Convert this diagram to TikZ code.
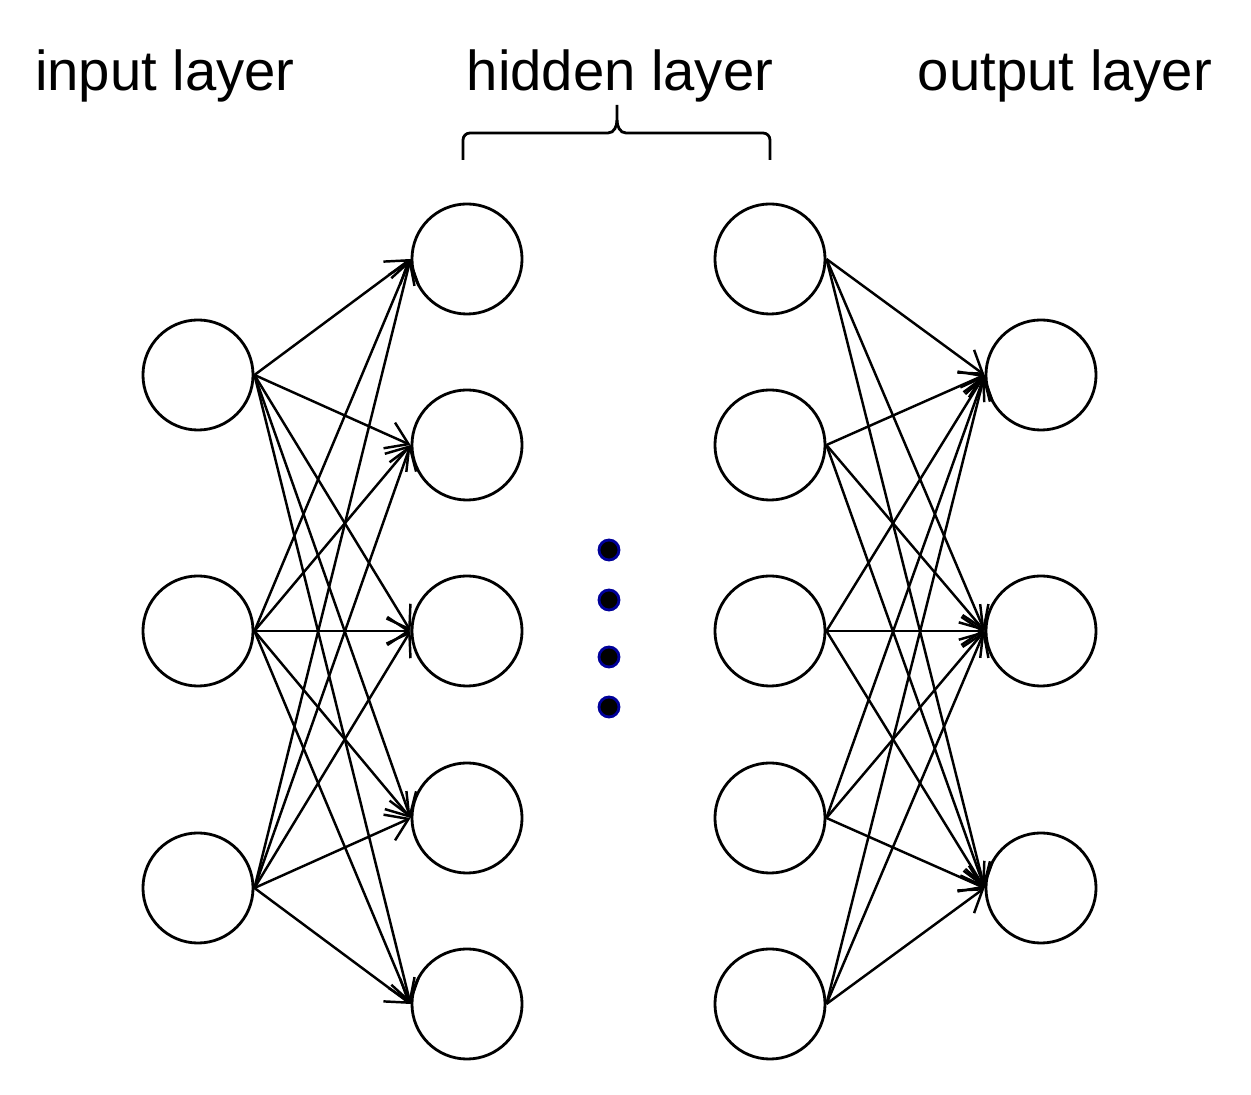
\documentclass[tikz,border=0pt]{standalone}
\usepackage{fontspec}
\setmainfont{Liberation Sans}
\usetikzlibrary{arrows.meta}
\begin{document}
\begin{tikzpicture}[x=0.01cm,y=-0.01cm,
  neuron/.style={circle,draw,line width=0.8pt,minimum size=1.1cm,inner sep=0pt},
  conn/.style={line width=0.7pt,-{Straight Barb[length=6pt,width=8pt]}},
  lbl/.style={font=\fontsize{16}{18}\selectfont,anchor=base}]
\useasboundingbox (0,0) rectangle (1251,1095);
\foreach \y [count=\i] in {375,631,888} {
  \node[neuron] (i\i) at (198,\y) {};
  \node[neuron] (o\i) at (1041,\y) {};
}
\foreach \y [count=\i] in {259,445,631,818,1004} {
  \node[neuron] (a\i) at (467,\y) {};
  \node[neuron] (b\i) at (770,\y) {};
}
\foreach \i in {1,2,3} \foreach \j in {1,...,5} {
  \draw[conn] (i\i.east) -- (a\j.west);
  \draw[conn] (b\j.east) -- (o\i.west);
}
\foreach \y [count=\k] in {550,600,657,707}
  \node[circle,fill=black,draw=blue!60!black,line width=0.8pt,minimum size=0.2cm,inner sep=0pt] (d\k) at (609,\y) {};
\node[lbl] (t1) at (165,91) {input layer};
\node[lbl] (t2) at (620,91) {hidden layer};
\node[lbl] (t3) at (1065,91) {output layer};
\draw[line width=0.8pt] (463,160) -- (463,140) to[out=90,in=180] (470,133) -- (608,133)
  to[out=0,in=-90] (617,120) -- (617,105);
\draw[line width=0.8pt] (770,160) -- (770,140) to[out=90,in=0] (763,133) -- (626,133)
  to[out=180,in=-90] (617,120);
\end{tikzpicture}
\end{document}
